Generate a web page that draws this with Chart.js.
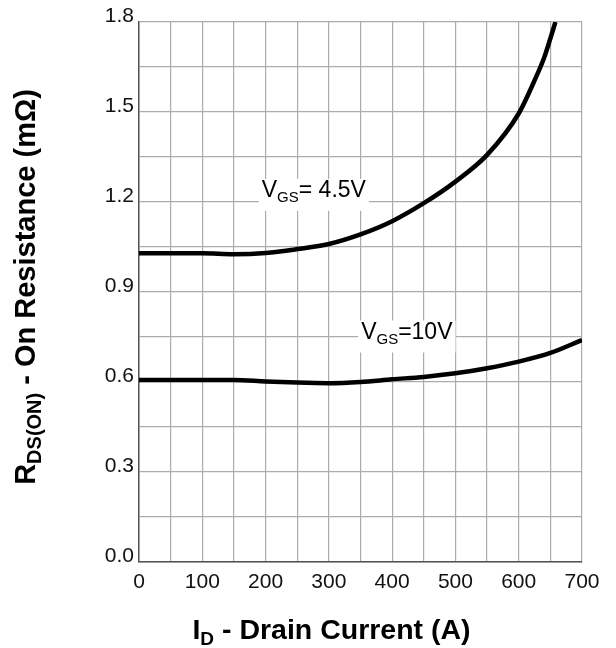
<!DOCTYPE html>
<html>
<head>
<meta charset="utf-8">
<script src="https://cdn.jsdelivr.net/npm/chart.js@4"></script>
<style>
  html, body { margin: 0; padding: 0; background: #fff; }
  #wrap { width: 616px; height: 648px; }
</style>
</head>
<body>
<div id="wrap"><canvas id="rdsChart" width="616" height="648"></canvas></div>
<script>
// drain current (A)
const idVgs45 = [0, 50, 100, 150, 200, 250, 300, 350, 400, 450, 500, 550, 600, 625, 640, 650, 658];
const rdsVgs45 = [1.029, 1.029, 1.029, 1.026, 1.03, 1.043, 1.06, 1.092, 1.136, 1.196, 1.268, 1.357, 1.495, 1.605, 1.68, 1.745, 1.8];

const idVgs10 = [0, 50, 100, 150, 200, 250, 300, 350, 400, 450, 500, 550, 600, 650, 700];
const rdsVgs10 = [0.607, 0.607, 0.607, 0.607, 0.602, 0.598, 0.596, 0.600, 0.609, 0.617, 0.629, 0.646, 0.668, 0.697, 0.74];

const xTicks = [0, 100, 200, 300, 400, 500, 600, 700];
const yTicks = ['0.0', '0.3', '0.6', '0.9', '1.2', '1.5', '1.8'];

// curve labels: [main, subscript, rest, x, y]
const curveLabels = [
  ['V', 'GS', '= 4.5V', 194, 1.237],
  ['V', 'GS', '=10V', 351, 0.765]
];

const toPts = (xs, ys) => xs.map((x, i) => ({ x: x, y: ys[i] }));

const FONT = "'Liberation Sans', Arial, sans-serif";

// main text + lowered subscript + rest, left or centered at x
function drawSubText(ctx, x, y, main, sub, rest, size, subSize, bold, align) {
  const w = bold ? 'bold ' : '';
  const big = w + size + 'px ' + FONT;
  const small = w + subSize + 'px ' + FONT;
  ctx.font = big; const w1 = ctx.measureText(main).width;
  ctx.font = small; const w2 = ctx.measureText(sub).width;
  ctx.font = big; const w3 = ctx.measureText(rest).width;
  let x0 = x;
  if (align === 'center') x0 = x - (w1 + w2 + w3) / 2;
  ctx.textBaseline = 'middle';
  ctx.textAlign = 'left';
  ctx.font = big; ctx.fillText(main, x0, y);
  ctx.font = small; ctx.fillText(sub, x0 + w1, y + size * 0.3);
  ctx.font = big; ctx.fillText(rest, x0 + w1 + w2, y);
  return w1 + w2 + w3;
}

const textPlugin = {
  id: 'textPlugin',
  afterDatasetsDraw(chart) {
    const ctx = chart.ctx;
    const xs = chart.scales.x, ys = chart.scales.y;
    ctx.save();
    curveLabels.forEach(l => {
      const px = xs.getPixelForValue(l[3]);
      const py = ys.getPixelForValue(l[4]);
      ctx.font = '23px ' + FONT;
      const w1 = ctx.measureText(l[0]).width;
      ctx.font = '15px ' + FONT;
      const w2 = ctx.measureText(l[1]).width;
      ctx.font = '23px ' + FONT;
      const w3 = ctx.measureText(l[2]).width;
      ctx.fillStyle = '#fff';
      ctx.fillRect(px - 3, py - 12, w1 + w2 + w3 + 6, 32);
      ctx.fillStyle = '#000';
      drawSubText(ctx, px, py, l[0], l[1], l[2], 23, 15, false, 'left');
    });
    ctx.restore();
  },
  afterDraw(chart) {
    const ctx = chart.ctx;
    const a = chart.chartArea;
    ctx.save();
    ctx.fillStyle = '#000';
    // x title
    drawSubText(ctx, (a.left + a.right) / 2 - 29, 631, 'I', 'D', ' - Drain Current (A)', 28.5, 19, true, 'center');
    // y title
    ctx.translate(27, (a.top + a.bottom) / 2 - 5);
    ctx.rotate(-Math.PI / 2);
    drawSubText(ctx, 0, 0, 'R', 'DS(ON)', ' - On Resistance (m\u03A9)', 29, 20, true, 'center');
    ctx.restore();
  }
};

const cfg = {
  type: 'line',
  data: {
    datasets: [
      {
        label: 'VGS=4.5V',
        data: toPts(idVgs45, rdsVgs45),
        borderColor: '#000',
        borderWidth: 4.5,
        pointRadius: 0,
        cubicInterpolationMode: 'monotone',
        fill: false
      },
      {
        label: 'VGS=10V',
        data: toPts(idVgs10, rdsVgs10),
        borderColor: '#000',
        borderWidth: 4.5,
        pointRadius: 0,
        cubicInterpolationMode: 'monotone',
        fill: false
      }
    ]
  },
  options: {
    responsive: false,
    animation: false,
    layout: { padding: { left: 0, right: 34, top: 22, bottom: 0 } },
    plugins: {
      legend: { display: false },
      tooltip: { enabled: false },
      title: { display: false }
    },
    scales: {
      x: {
        type: 'linear',
        min: 0,
        max: 700,
        afterFit: s => { s.height = 86; },
        grid: { color: '#ababab', lineWidth: 1.2, drawTicks: false },
        border: { color: '#555', width: 1.5 },
        ticks: {
          stepSize: 50,
          padding: 8,
          color: '#111',
          font: { family: FONT, size: 21 },
          maxRotation: 0,
          autoSkip: false,
          callback: v => xTicks.includes(v) ? String(v) : ''
        }
      },
      y: {
        type: 'linear',
        min: 0,
        max: 1.8,
        afterFit: s => { s.width = 139; },
        grid: { color: '#ababab', lineWidth: 1.2, drawTicks: false },
        border: { color: '#555', width: 1.5 },
        ticks: {
          stepSize: 0.15,
          padding: 5,
          labelOffset: -6,
          color: '#111',
          font: { family: FONT, size: 21 },
          autoSkip: false,
          callback: v => {
            const s = v.toFixed(1);
            return (Math.abs(v / 0.3 - Math.round(v / 0.3)) < 1e-6 && yTicks.includes(s)) ? s : '';
          }
        }
      }
    }
  },
  plugins: [textPlugin]
};

new Chart(document.getElementById('rdsChart').getContext('2d'), cfg);
</script>
</body>
</html>
